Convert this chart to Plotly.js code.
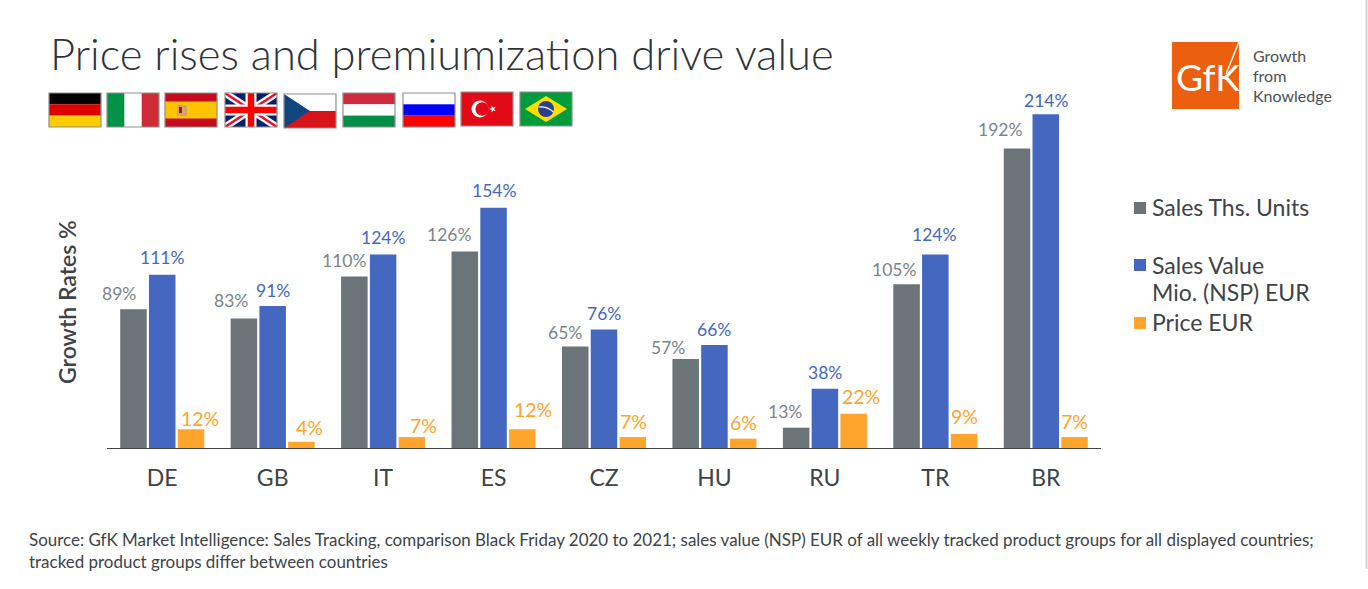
<!DOCTYPE html>
<html><head><meta charset="utf-8">
<script src="https://cdn.plot.ly/plotly-3.0.1.min.js"></script>
<style>html,body{margin:0;padding:0;background:#fff;overflow:hidden}#c{width:1368px;height:589px}</style>
</head><body><div id="c"></div>
<script>
const countries = ["DE","GB","IT","ES","CZ","HU","RU","TR","BR"];
const salesUnits = [89,83,110,126,65,57,13,105,192];
const salesValue = [111,91,124,154,76,66,38,124,214];
const priceEur = [12,4,7,12,7,6,22,9,7];
const seriesNames = ["Sales Ths. Units","Sales Value Mio. (NSP) EUR","Price EUR"];
const seriesColors = ["#6b7478","#4468c0","#ffa42c"];
const titleText = "Price rises and premiumization drive value";
const yTitle = "Growth Rates %";
const sourceText = "Source: GfK Market Intelligence: Sales Tracking, comparison Black Friday 2020 to 2021; sales value (NSP) EUR of all weekly tracked product groups for all displayed countries;<br>tracked product groups differ between countries";
const FONT = "Lato, 'Liberation Sans', sans-serif", INK = "#3d4347";
const W=1368,H=589,ML=107,MR=267,MT=90,MB=141;
const PW=W-ML-MR,PH=H-MT-MB;
const px = v => (v-ML)/PW, py = v => (H-MB-v)/PH;

// hand-placed label nudges of the original slide, in pixels
const unitsNudgeX = [0,1,4,-2,4,-3,3,2,-3], unitsNudgeY = [1,4,1,2,0,-3,2,0,5];
const valueNudgeX = [0,0,0,0,0,0,0,-1,0], valueNudgeY = [0,-2,0,0,-2,-2,-1,3,-4];
const priceNudgeX = [0,-1,2,1,-9,-9,-2,-9,-9], priceNudgeY = [-2,2,-1,7,3,4,5,5,3];

const svg = s => "data:image/svg+xml;utf8," + encodeURIComponent(`<svg xmlns="http://www.w3.org/2000/svg" viewBox="0 0 52 34" preserveAspectRatio="none" width="52" height="34">${s}</svg>`);
const h3 = (a,b,c) => `<rect width="52" height="11.4" fill="${a}"/><rect y="11.3" width="52" height="11.4" fill="${b}"/><rect y="22.6" width="52" height="11.4" fill="${c}"/>`;
const flagArt = [
 h3("#000","#dd0000","#ffce00"),
 `<rect width="52" height="34" fill="#fff"/><rect width="17.3" height="34" fill="#009246"/><rect x="34.7" width="17.3" height="34" fill="#ce2b37"/>`,
 `<rect width="52" height="34" fill="#c60b1e"/><rect y="8.5" width="52" height="17" fill="#ffc400"/><rect x="12" y="12" width="10" height="11" rx="2" fill="#d9a06a"/><rect x="14" y="14" width="3" height="6" fill="#c60b1e"/><rect x="17" y="15" width="3" height="5" fill="#c9b07a"/>`,
 `<rect width="52" height="34" fill="#012169"/><path d="M0 0L52 34M52 0L0 34" stroke="#fff" stroke-width="7"/><path d="M0 0L52 34M52 0L0 34" stroke="#e8112d" stroke-width="2.4"/><path d="M26 0V34M0 17H52" stroke="#fff" stroke-width="11"/><path d="M26 0V34M0 17H52" stroke="#f00" stroke-width="6.5"/>`,
 `<rect width="52" height="17" fill="#fff"/><rect y="17" width="52" height="17" fill="#d7141a"/><path d="M0 0L26 17L0 34Z" fill="#11457e"/>`,
 h3("#cd2a3e","#fff","#008d46"),
 h3("#fff","#0000ff","#ff0000"),
 `<rect width="52" height="34" fill="#e30a17"/><circle cx="19" cy="17" r="8.5" fill="#fff"/><circle cx="21.2" cy="17" r="6.8" fill="#e30a17"/><path d="M28 17l6.8-2.2-4.2 5.8v-7.2l4.2 5.8Z" fill="#fff"/>`,
 `<rect width="52" height="34" fill="#009b3a"/><path d="M26 4L47 17L26 30L5 17Z" fill="#fedf00"/><circle cx="26" cy="17" r="8" fill="#2a3f8f"/><path d="M18.5 15Q27 14 33.5 20" stroke="#fff" stroke-width="1.1" fill="none"/>`
];
const flagBox = [[49,93,52,34],[107,93,52,34],[165,93,52,34],[225,93,52,34],[284,94,52,34],[343,93,52,34],[403,93,52,34],[461,92,52,34],[520,92,52,34]];
const images = flagArt.map((a,i)=>({source:svg(a),xref:"paper",yref:"paper",xanchor:"left",yanchor:"top",sizing:"stretch",layer:"above",
  x:px(flagBox[i][0]),y:py(flagBox[i][1]),sizex:flagBox[i][2]/PW,sizey:flagBox[i][3]/PH}));

const rectP=(x0,y0,x1,y1,o)=>Object.assign({type:"rect",xref:"paper",yref:"paper",x0:px(x0),x1:px(x1),y0:py(y0),y1:py(y1),layer:"above"},o);
const lineP=(x0,y0,x1,y1,o)=>Object.assign({type:"line",xref:"paper",yref:"paper",x0:px(x0),x1:px(x1),y0:py(y0),y1:py(y1),layer:"above"},o);
const shapes = [
  ...flagBox.map(b=>rectP(b[0],b[1],b[0]+b[2],b[1]+b[3],{line:{color:"#8f8f8f",width:1.2},fillcolor:"rgba(0,0,0,0)"})),
  rectP(1172,42,1239,109,{fillcolor:"#ec5f0e",line:{width:0}}),
  lineP(1226,74,1239,42,{line:{color:"#fff",width:1.5}}),
  rectP(1134,202,1146,214,{fillcolor:seriesColors[0],line:{width:0}}),
  rectP(1134,259,1146,271,{fillcolor:seriesColors[1],line:{width:0}}),
  rectP(1134,317,1146,329,{fillcolor:seriesColors[2],line:{width:0}}),
  lineP(1366.5,0,1366.5,569,{line:{color:"#d4d4d4",width:2}}),
];
const txt=(t,x,y,size,color,o)=>Object.assign({text:t,xref:"paper",yref:"paper",x:px(x),y:py(y),showarrow:false,xanchor:"left",yanchor:"middle",align:"left",font:{family:FONT,size:size,color:color}},o||{});
const labels = (vals,color,size,xshift,yshift,nx,ny)=>vals.map((v,i)=>({text:v+"%",x:countries[i],y:v,xref:"x",yref:"y",showarrow:false,xshift:xshift+nx[i],yshift:yshift+ny[i],yanchor:"bottom",font:{family:FONT,size:size,color:color}}));
const annotations = [
  ...labels(salesUnits,"#7b8488",17.5,-43,2,unitsNudgeX,unitsNudgeY),
  ...labels(salesValue,seriesColors[1],17.5,0,5,valueNudgeX,valueNudgeY),
  ...labels(priceEur,seriesColors[2],19.5,38,-1,priceNudgeX,priceNudgeY),
  txt(yTitle,67,302,23,INK,{xanchor:"center",textangle:-90,font:{family:"Lato",size:23,color:INK,weight:600}}),
  txt("Sales Ths. Units",1150,206.5,23,INK),
  txt("Sales Value",1150,264.5,23,INK),
  txt("Mio. (NSP) EUR",1150,291.5,23,INK),
  txt("Price EUR",1150,321.5,23,INK),
  txt(sourceText,27,550,16.97,INK),
  txt("GfK",1174,77,37,"#fff"),
  txt("Growth",1251,55,16,"#4a5054"),
  txt("from",1251,75,16,"#4a5054"),
  txt("Knowledge",1251,95,16,"#4a5054"),
];
const traces = [salesUnits,salesValue,priceEur].map((vals,i)=>({type:"bar",x:countries,y:vals,name:seriesNames[i],marker:{color:seriesColors[i]},cliponaxis:false,hoverinfo:"x+y"}));
const layout = {
  width:W,height:H,paper_bgcolor:"#fff",plot_bgcolor:"#fff",showlegend:false,
  margin:{l:ML,r:MR,t:MT,b:MB,pad:0},
  barmode:"group",bargap:0.219,bargroupgap:0.078,
  title:{text:titleText,x:50/W,xanchor:"left",y:1-55/H,yanchor:"middle",font:{family:FONT,size:43.5,color:"#2f3438",weight:300}},
  xaxis:{type:"category",categoryorder:"array",categoryarray:countries,range:[-0.5,8.5],showline:true,linecolor:"#444",linewidth:1.4,ticks:"outside",ticklen:9,tickcolor:"rgba(0,0,0,0)",tickfont:{family:FONT,size:23,color:INK},showgrid:false,zeroline:false,fixedrange:true},
  yaxis:{range:[0,229.5],visible:false,showgrid:false,zeroline:false,fixedrange:true},
  images,shapes,annotations
};
Plotly.newPlot("c",traces,layout,{displayModeBar:false,staticPlot:true});
</script></body></html>
